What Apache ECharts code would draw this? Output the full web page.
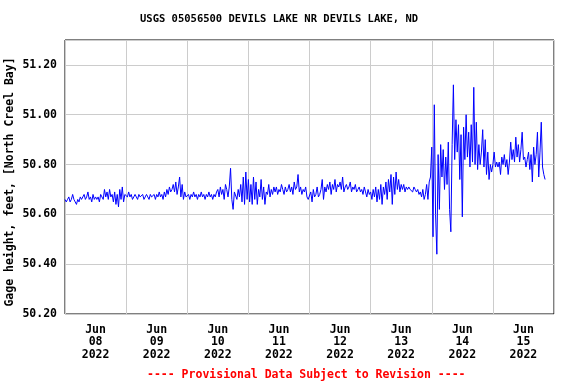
<!DOCTYPE html>
<html>
<head>
<meta charset="utf-8">
<script src="https://cdn.jsdelivr.net/npm/echarts@6/dist/echarts.min.js"></script>
<style>
  html, body { margin: 0; padding: 0; background: #fff; }
  #chart { width: 576px; height: 384px; }
</style>
</head>
<body>
<div id="chart"></div>
<script>
// Gage height readings, one every 30 minutes starting Jun 08 2022 00:00
const day1 = [50.66, 50.65, 50.66, 50.67, 50.65, 50.66, 50.68, 50.66,
  50.65, 50.64, 50.66, 50.65, 50.67, 50.66, 50.67, 50.68,
  50.66, 50.67, 50.69, 50.66, 50.67, 50.65, 50.68, 50.66,
  50.67, 50.66, 50.67, 50.65, 50.68, 50.67, 50.66, 50.70,
  50.67, 50.69, 50.66, 50.70, 50.67, 50.68, 50.65, 50.69,
  50.64, 50.68, 50.63, 50.70, 50.66, 50.71, 50.65, 50.68];
const day2 = [50.68, 50.67, 50.69, 50.67, 50.68, 50.66, 50.67, 50.68,
  50.67, 50.66, 50.68, 50.67, 50.67, 50.68, 50.66, 50.67,
  50.68, 50.67, 50.66, 50.68, 50.67, 50.67, 50.68, 50.66,
  50.68, 50.67, 50.69, 50.67, 50.68, 50.66, 50.69, 50.67,
  50.70, 50.68, 50.71, 50.69,
  50.70, 50.72, 50.69, 50.73, 50.68, 50.71, 50.75, 50.67, 50.72, 50.66, 50.69, 50.67];
const day3 = [50.67, 50.68, 50.66, 50.68, 50.67, 50.69, 50.67, 50.68, 50.66,
  50.68, 50.67, 50.69, 50.67, 50.68, 50.66, 50.68, 50.67, 50.69, 50.67, 50.68, 50.66,
  50.68, 50.67, 50.69, 50.70, 50.67, 50.71, 50.68, 50.70, 50.66, 50.72,
  50.70, 50.67, 50.71, 50.785, 50.66, 50.62, 50.69,
  50.69, 50.66, 50.70, 50.67, 50.72, 50.65, 50.75, 50.64, 50.77, 50.66];
const day4 = [50.74, 50.65, 50.72, 50.64, 50.75, 50.66, 50.73, 50.64, 50.70, 50.67, 50.74,
  50.66, 50.71, 50.64, 50.69, 50.68, 50.72, 50.67, 50.70, 50.68, 50.71,
  50.69, 50.71, 50.68, 50.70, 50.69, 50.72, 50.70, 50.68, 50.71, 50.69, 50.70, 50.72,
  50.69, 50.71, 50.68, 50.73, 50.70, 50.71, 50.76, 50.69, 50.71, 50.68, 50.70, 50.69, 50.71, 50.67, 50.66];
const day5 = [50.66, 50.69, 50.65, 50.70, 50.67, 50.68, 50.71, 50.67,
  50.68, 50.70, 50.74, 50.66, 50.71, 50.69, 50.72, 50.70, 50.73, 50.68,
  50.72, 50.70, 50.74, 50.69, 50.72, 50.71, 50.73, 50.70, 50.75, 50.69,
  50.71, 50.72, 50.70, 50.71, 50.73, 50.69, 50.71, 50.70, 50.72, 50.69, 50.70,
  50.71, 50.69, 50.70, 50.68, 50.71, 50.69, 50.67, 50.70, 50.68];
const day6 = [50.69, 50.66, 50.70, 50.67, 50.71, 50.65, 50.70, 50.66,
  50.72, 50.64, 50.71, 50.68, 50.73, 50.66, 50.74, 50.69,
  50.76, 50.64, 50.75, 50.68, 50.77, 50.70, 50.74, 50.69, 50.72,
  50.70, 50.72, 50.69, 50.71, 50.70, 50.71, 50.70, 50.70, 50.69, 50.71, 50.70,
  50.69, 50.70, 50.68, 50.69, 50.67, 50.70, 50.66, 50.68, 50.72, 50.66, 50.73, 50.75];
const day7 = [50.87, 50.51, 51.04, 50.60, 50.44, 50.84, 50.62, 50.88,
  50.75, 50.86, 50.70, 50.83, 50.72, 50.89, 50.62, 50.53,
  50.88, 51.12, 50.82, 50.98, 50.85, 50.96, 50.74, 50.92,
  50.59, 50.95, 50.82, 51.00, 50.83, 50.93, 50.79, 50.96,
  50.81, 51.11, 50.80, 50.97, 50.78, 50.88, 50.80, 50.85,
  50.94, 50.79, 50.90, 50.76, 50.85, 50.74, 50.80, 50.77];
const day8 = [50.80, 50.85, 50.79, 50.81, 50.79, 50.81, 50.76, 50.83,
  50.80, 50.84, 50.79, 50.82, 50.76, 50.81, 50.89, 50.82,
  50.86, 50.81, 50.91, 50.83, 50.88, 50.81, 50.86, 50.93,
  50.82, 50.83, 50.79, 50.82, 50.85, 50.78, 50.84, 50.73,
  50.87, 50.80, 50.84, 50.93, 50.75, 50.85, 50.97, 50.79,
  50.76, 50.74];

const dayLabels = ['Jun\n08\n2022', 'Jun\n09\n2022', 'Jun\n10\n2022', 'Jun\n11\n2022',
  'Jun\n12\n2022', 'Jun\n13\n2022', 'Jun\n14\n2022', 'Jun\n15\n2022'];
const yTicks = [50.20, 50.40, 50.60, 50.80, 51.00, 51.20];

const stepHours = 0.5;
const values = [].concat(day1, day2, day3, day4, day5, day6, day7, day8);
const seriesData = values.map((v, i) => [i * stepHours, v]);

const FONT = '"DejaVu Sans Mono", "Liberation Mono", monospace';

const chart = echarts.init(document.getElementById('chart'), null, { renderer: 'canvas' });
chart.setOption({
  animation: false,
  backgroundColor: '#ffffff',
  title: [
    {
      text: 'USGS 05056500 DEVILS LAKE NR DEVILS LAKE, ND',
      left: 140, top: 14, padding: 0,
      textStyle: { fontFamily: FONT, fontWeight: 'bold', fontSize: 10.5, color: '#000' }
    },
    {
      text: '---- Provisional Data Subject to Revision ----',
      left: 147, top: 369, padding: 0,
      textStyle: { fontFamily: FONT, fontWeight: 'bold', fontSize: 11.5, color: '#ff0000' }
    }
  ],
  grid: {
    left: 65, right: 22, top: 40, bottom: 70,
    containLabel: false, outerBoundsMode: 'none',
    show: true, borderColor: '#000', borderWidth: 1, backgroundColor: '#fff'
  },
  xAxis: [
    {
      type: 'value', min: 0, max: 192, interval: 24,
      axisLine: { show: false }, axisTick: { show: false }, axisLabel: { show: false },
      splitLine: { show: true, lineStyle: { color: '#cccccc', width: 1 } }
    },
    {
      type: 'value', min: 0, max: 192, interval: 12, position: 'bottom',
      axisLine: { show: false }, axisTick: { show: false },
      splitLine: { show: false },
      axisLabel: {
        show: true, margin: 10, lineHeight: 12.3,
        fontFamily: FONT, fontWeight: 'bold', fontSize: 11.5, color: '#000',
        formatter: function (v) {
          if (v % 24 === 12) { return dayLabels[(v - 12) / 24] || ''; }
          return '';
        }
      }
    }
  ],
  yAxis: {
    type: 'value', min: yTicks[0], max: 51.3, interval: 0.2,
    name: 'Gage height, feet, [North Creel Bay]',
    nameLocation: 'middle', nameGap: 49, nameMoveOverlap: false,
    nameTextStyle: { fontFamily: FONT, fontWeight: 'bold', fontSize: 11.5, color: '#000', padding: [0, 10, 0, 0] },
    axisLine: { show: false }, axisTick: { show: false },
    splitLine: { show: true, lineStyle: { color: '#cccccc', width: 1 } },
    axisLabel: {
      margin: 8, showMaxLabel: false,
      fontFamily: FONT, fontWeight: 'bold', fontSize: 11.5, color: '#000',
      formatter: function (v) { return v.toFixed(2); }
    }
  },
  series: [{
    type: 'line', xAxisIndex: 0, data: seriesData,
    showSymbol: false, symbol: 'none',
    lineStyle: { color: '#0000ff', width: 1 },
    emphasis: { disabled: true }
  }]
});
</script>
</body>
</html>
